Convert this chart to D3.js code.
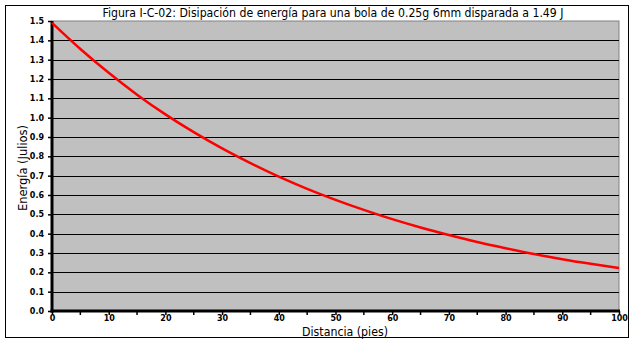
<!DOCTYPE html>
<html><head><meta charset="utf-8">
<script src="https://cdn.jsdelivr.net/npm/d3@7"></script>
<style>body{margin:0;background:#fff}svg{display:block}</style>
</head><body>
<script>
const distances = [0,5,10,15,20,25,30,35,40,45,50,55,60,65,70,75,80,85,90,95,100];
const energy = [1.49,1.355,1.232,1.119,1.017,0.925,0.841,0.765,0.695,0.632,0.575,0.523,0.475,0.432,0.393,0.357,0.325,0.295,0.268,0.244,0.222];
const yTicks = [0.0,0.1,0.2,0.3,0.4,0.5,0.6,0.7,0.8,0.9,1.0,1.1,1.2,1.3,1.4,1.5];
const xTicks = [0,10,20,30,40,50,60,70,80,90,100];
const xMinorTicks = [5,15,25,35,45,55,65,75,85,95];
const title = "Figura I-C-02: Disipación de energía para una bola de 0.25g 6mm disparada a 1.49 J";
const xTitle = "Distancia (pies)";
const yTitle = "Energía (Julios)";

const W = 634, H = 343;
const L = 52, R = 619, T = 21, B = 311;
const svg = d3.select("body").append("svg").attr("width", W).attr("height", H);
const x = d3.scaleLinear().domain([0,100]).range([L,R]);
const y = d3.scaleLinear().domain([0,1.5]).range([B,T]);

svg.append("rect").attr("x",5.5).attr("y",5.5).attr("width",623).attr("height",332)
  .attr("fill","#fff").attr("stroke","#000").attr("stroke-width",1);

svg.append("rect").attr("x",L).attr("y",T).attr("width",R-L).attr("height",B-T)
  .attr("fill","#c0c0c0").attr("stroke","#808080").attr("stroke-width",1);

svg.append("g").selectAll("line").data(yTicks.filter(d=>d>0 && d<1.5)).join("line")
  .attr("x1",L).attr("x2",R).attr("y1",d=>Math.round(y(d))+0.5).attr("y2",d=>Math.round(y(d))+0.5)
  .attr("stroke","#000").attr("stroke-width",1);

// axes
const font = "'DejaVu Sans', Verdana, sans-serif";
const yAxis = svg.append("g").attr("transform",`translate(${L},0)`)
  .call(d3.axisLeft(y).tickValues(yTicks).tickFormat(d3.format(".1f")).tickSize(4).tickPadding(4));
const xAxis = svg.append("g").attr("transform",`translate(0,${B})`)
  .call(d3.axisBottom(x).tickValues(xTicks).tickFormat(d3.format("d")).tickSize(4).tickPadding(0));
svg.append("g").attr("transform",`translate(0,${B})`).selectAll("line").data(xMinorTicks).join("line")
  .attr("x1",d=>x(d)).attr("x2",d=>x(d)).attr("y1",0).attr("y2",4).attr("stroke","#000").attr("stroke-width",1.5);
[yAxis,xAxis].forEach(g=>{
  g.select(".domain").remove();
  g.selectAll(".tick line").attr("stroke","#000").attr("stroke-width",1.5);
  g.selectAll(".tick text").attr("font-family",font).attr("font-weight","bold").attr("font-size","8px").attr("fill","#000");
});
svg.append("line").attr("x1",L).attr("x2",L).attr("y1",T).attr("y2",B+1.5).attr("stroke","#000").attr("stroke-width",3);
svg.append("line").attr("x1",L-1.5).attr("x2",R+1).attr("y1",B).attr("y2",B).attr("stroke","#000").attr("stroke-width",3);

const line = d3.line().x((d,i)=>x(distances[i])).y(d=>y(d)).curve(d3.curveMonotoneX);
svg.append("path").datum(energy).attr("d",line).attr("fill","none").attr("stroke","#ff0000").attr("stroke-width",2.5);

const tfont = "'DejaVu Sans Condensed', 'Liberation Sans', sans-serif";
svg.append("text").attr("x",333).attr("y",17).attr("text-anchor","middle")
  .attr("font-family",tfont).attr("font-size","13px")
  .attr("textLength",461).attr("lengthAdjust","spacingAndGlyphs").text(title);
svg.append("text").attr("x",345).attr("y",335.5).attr("text-anchor","middle")
  .attr("font-family",tfont).attr("font-size","12px")
  .attr("textLength",86).attr("lengthAdjust","spacingAndGlyphs").text(xTitle);
svg.append("text").attr("transform","translate(27,168) rotate(-90)").attr("text-anchor","middle")
  .attr("font-family",tfont).attr("font-size","13px")
  .attr("textLength",86).attr("lengthAdjust","spacingAndGlyphs").text(yTitle);
</script>
</body></html>
